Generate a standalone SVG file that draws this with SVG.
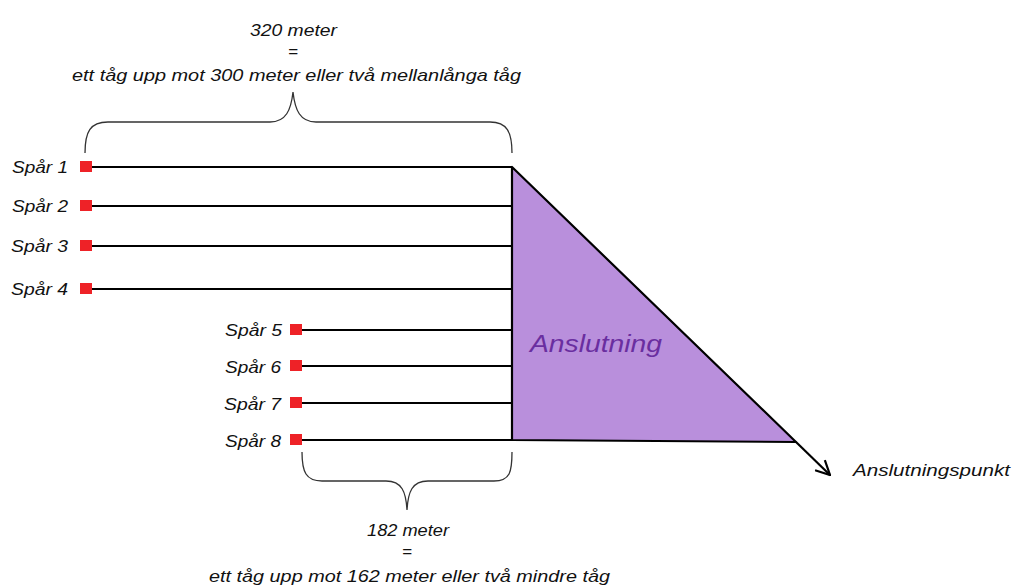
<svg xmlns="http://www.w3.org/2000/svg" width="1014" height="586" viewBox="0 0 1014 586">
  <style>
    .lbl { font-family: "Liberation Sans", Arial, sans-serif; font-style: italic; font-size: 17px; fill: #111; }
    .track { stroke: #000; stroke-width: 2.2; fill: none; }
    .stop { fill: #ee2227; }
    .brace { stroke: #333; stroke-width: 1.3; fill: none; }
  </style>
  <defs>
    <marker id="arrow" viewBox="0 0 16 16" refX="15" refY="8" markerWidth="16" markerHeight="16" markerUnits="userSpaceOnUse" orient="auto">
      <path d="M1,1 L15,8 L1,15" fill="none" stroke="#000" stroke-width="2.2"/>
    </marker>
  </defs>
  <rect width="1014" height="586" fill="#fff"/>

  <!-- connection area -->
  <g id="anslutning">
    <polygon points="512,167 512,440 796,442" fill="#b98fdc" stroke="#000" stroke-width="2.2" stroke-linejoin="round"/>
    <text x="530" y="352" font-family="'Liberation Sans', Arial, sans-serif" font-style="italic" font-size="24" fill="#6a2ea0" textLength="132" lengthAdjust="spacingAndGlyphs">Anslutning</text>
  </g>

  <!-- tracks -->
  <g id="connectors">
    <line class="track" x1="92" y1="167" x2="512" y2="167"/>
    <line class="track" x1="92" y1="206" x2="512" y2="206"/>
    <line class="track" x1="92" y1="246" x2="512" y2="246"/>
    <line class="track" x1="92" y1="289" x2="512" y2="289"/>
    <line class="track" x1="302" y1="330" x2="512" y2="330"/>
    <line class="track" x1="302" y1="366" x2="512" y2="366"/>
    <line class="track" x1="302" y1="403" x2="512" y2="403"/>
    <line class="track" x1="302" y1="440" x2="512" y2="440"/>
    <line x1="796" y1="442" x2="830" y2="475" stroke="#000" stroke-width="2.2" marker-end="url(#arrow)"/>
  </g>

  <g id="spar1"><rect class="stop" x="80" y="161" width="12" height="11"/><text class="lbl" x="12" y="173" textLength="56" lengthAdjust="spacingAndGlyphs">Spår 1</text></g>
  <g id="spar2"><rect class="stop" x="80" y="200" width="12" height="11"/><text class="lbl" x="12" y="212" textLength="56" lengthAdjust="spacingAndGlyphs">Spår 2</text></g>
  <g id="spar3"><rect class="stop" x="80" y="240" width="12" height="11"/><text class="lbl" x="11" y="252" textLength="57" lengthAdjust="spacingAndGlyphs">Spår 3</text></g>
  <g id="spar4"><rect class="stop" x="80" y="283" width="12" height="11"/><text class="lbl" x="11" y="295" textLength="57" lengthAdjust="spacingAndGlyphs">Spår 4</text></g>
  <g id="spar5"><rect class="stop" x="290" y="324" width="12" height="11"/><text class="lbl" x="225" y="336" textLength="57" lengthAdjust="spacingAndGlyphs">Spår 5</text></g>
  <g id="spar6"><rect class="stop" x="290" y="360" width="12" height="11"/><text class="lbl" x="225" y="373" textLength="56" lengthAdjust="spacingAndGlyphs">Spår 6</text></g>
  <g id="spar7"><rect class="stop" x="290" y="397" width="12" height="11"/><text class="lbl" x="224" y="410" textLength="57" lengthAdjust="spacingAndGlyphs">Spår 7</text></g>
  <g id="spar8"><rect class="stop" x="290" y="434" width="12" height="11"/><text class="lbl" x="225" y="447" textLength="56" lengthAdjust="spacingAndGlyphs">Spår 8</text></g>

  <!-- upper dimension: 320 m -->
  <g id="dim320">
    <path class="brace" d="M85,153 C85,132 90,122 108,122 L270,122 C286,122 291,110 293,92 C295,110 300,122 316,122 L490,122 C507,122 512,132 512,153"/>
    <text class="lbl" x="250" y="36" textLength="87" lengthAdjust="spacingAndGlyphs">320 meter</text>
    <text class="lbl" x="293" y="57" text-anchor="middle">=</text>
    <text class="lbl" x="72" y="81" textLength="449" lengthAdjust="spacingAndGlyphs">ett tåg upp mot 300 meter eller två mellanlånga tåg</text>
  </g>

  <!-- lower dimension: 182 m -->
  <g id="dim182">
    <path class="brace" d="M302,452 C302,472 306,481 322,481 L386,481 C402,481 406,492 407,510 C408,492 412,481 428,481 L494,481 C510,481 512,472 512,452"/>
    <text class="lbl" x="367" y="536" textLength="82" lengthAdjust="spacingAndGlyphs">182 meter</text>
    <text class="lbl" x="407" y="557" text-anchor="middle">=</text>
    <text class="lbl" x="209" y="582" textLength="401" lengthAdjust="spacingAndGlyphs">ett tåg upp mot 162 meter eller två mindre tåg</text>
  </g>

  <g id="anslutningspunkt">
    <text class="lbl" x="853" y="476" textLength="157" lengthAdjust="spacingAndGlyphs">Anslutningspunkt</text>
  </g>
</svg>
